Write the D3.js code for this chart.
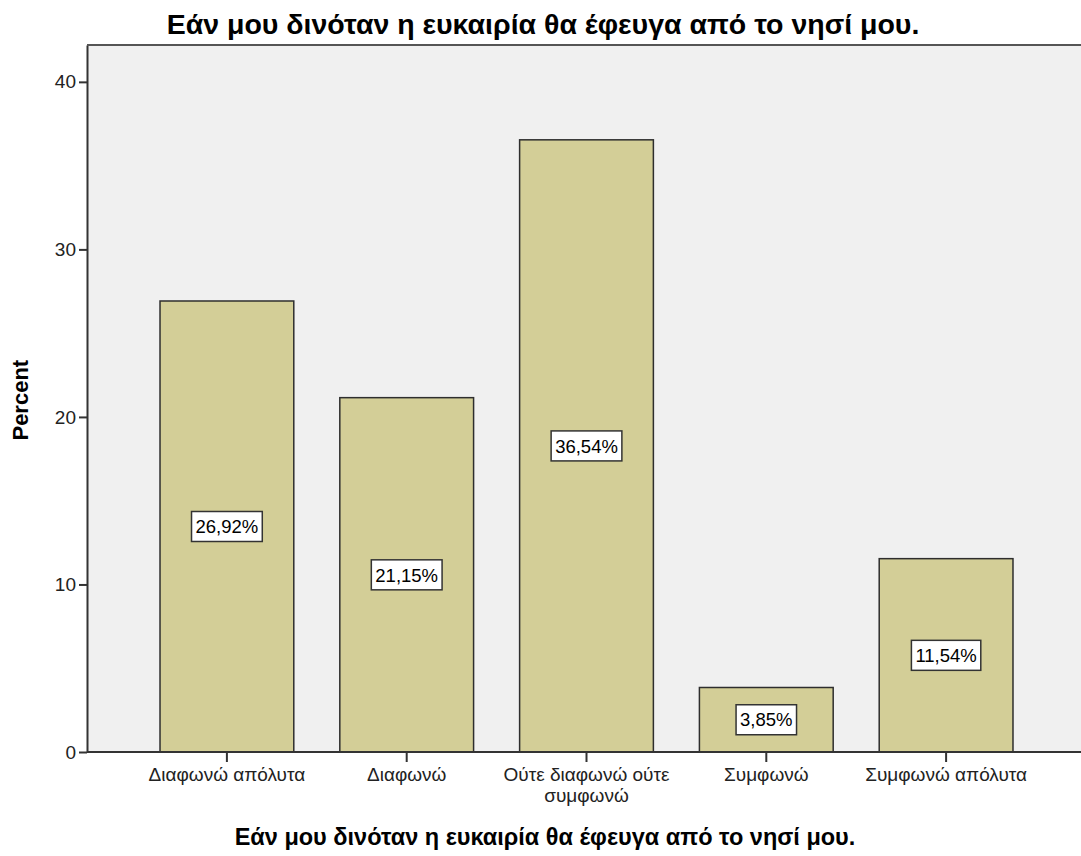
<!DOCTYPE html>
<html>
<head>
<meta charset="utf-8">
<script src="https://cdn.jsdelivr.net/npm/d3@7"></script>
<style>
  body { margin: 0; background: #fff; }
  text { font-family: "Liberation Sans", Arial, sans-serif; }
</style>
</head>
<body>
<div id="chart"></div>
<script>
// data
var categories = ["Διαφωνώ απόλυτα", "Διαφωνώ", "Ούτε διαφωνώ ούτε συμφωνώ", "Συμφωνώ", "Συμφωνώ απόλυτα"];
var catLines = [["Διαφωνώ απόλυτα"], ["Διαφωνώ"], ["Ούτε διαφωνώ ούτε", "συμφωνώ"], ["Συμφωνώ"], ["Συμφωνώ απόλυτα"]];
var percents = [26.92, 21.15, 36.54, 3.85, 11.54];
var labels = ["26,92%", "21,15%", "36,54%", "3,85%", "11,54%"];
var yTicks = [0, 10, 20, 30, 40];

var titleText = "Εάν μου δινόταν η ευκαιρία θα έφευγα από το νησί μου.";

var W = 1081, H = 856;
var margin = {top: 45, right: 0, bottom: 104, left: 87},
    width = W - margin.left - margin.right,
    height = H - margin.top - margin.bottom;

var svg = d3.select("#chart").append("svg")
    .attr("width", W)
    .attr("height", H);

var g = svg.append("g")
    .attr("transform", "translate(" + margin.left + "," + margin.top + ")");

// scales
var x = d3.scaleBand()
    .domain(categories)
    .range([50, 949])
    .paddingInner(0.256)
    .paddingOuter(0.128);

var y = d3.scaleLinear()
    .domain([0, 42.2])
    .range([height, 0]);

// plot background
g.append("rect")
    .attr("width", width)
    .attr("height", height)
    .attr("fill", "#f0f0f0");

// bars
g.selectAll(".bar")
    .data(percents)
  .enter().append("rect")
    .attr("class", "bar")
    .attr("x", function(d, i) { return x(categories[i]); })
    .attr("y", function(d) { return y(d); })
    .attr("width", x.bandwidth())
    .attr("height", function(d) { return height - y(d); })
    .attr("fill", "#d3ce97")
    .attr("stroke", "#2e2e2e")
    .attr("stroke-width", 1.5);

// value labels
var lab = g.selectAll(".vlab")
    .data(percents)
  .enter().append("g")
    .attr("class", "vlab")
    .attr("transform", function(d, i) {
      return "translate(" + (x(categories[i]) + x.bandwidth() / 2) + "," + y(d / 2) + ")";
    });

lab.append("text")
    .attr("text-anchor", "middle")
    .attr("dy", "0.36em")
    .style("font-size", "18.5px")
    .style("fill", "#000")
    .text(function(d, i) { return labels[i]; });

lab.each(function() {
  var t = d3.select(this).select("text");
  var w = t.node().getComputedTextLength();
  d3.select(this).insert("rect", "text")
      .attr("x", -w / 2 - 4)
      .attr("y", -15)
      .attr("width", w + 8)
      .attr("height", 30)
      .attr("fill", "#fff")
      .attr("stroke", "#333")
      .attr("stroke-width", 1.5);
});

// x baseline across the whole plot
g.append("line")
    .attr("x1", 0).attr("x2", width)
    .attr("y1", height).attr("y2", height)
    .attr("stroke", "#333")
    .attr("stroke-width", 2);

// y axis
var yAxis = g.append("g")
    .call(d3.axisLeft(y).tickValues(yTicks).tickSize(8).tickSizeOuter(0).tickPadding(3));
yAxis.select(".domain").attr("stroke", "#333").attr("stroke-width", 2);
yAxis.selectAll(".tick line").attr("stroke", "#333").attr("stroke-width", 2);
yAxis.selectAll(".tick text")
    .style("font-size", "19px")
    .style("font-family", "Liberation Sans, Arial, sans-serif")
    .attr("fill", "#222");

// x axis
var xAxis = g.append("g")
    .attr("transform", "translate(0," + height + ")")
    .call(d3.axisBottom(x).tickSize(10).tickSizeOuter(0).tickFormat(""));
xAxis.select(".domain").remove();
xAxis.selectAll(".tick line").attr("stroke", "#333").attr("stroke-width", 2);

xAxis.selectAll(".tick").each(function(d, i) {
  var t = d3.select(this).append("text")
      .attr("text-anchor", "middle")
      .attr("fill", "#222")
      .style("font-size", "19px")
      .style("font-family", "Liberation Sans, Arial, sans-serif");
  catLines[i].forEach(function(line, k) {
    t.append("tspan").attr("x", 0).attr("y", 29 + k * 21).text(line);
  });
});

// top border of plot
g.append("line")
    .attr("x1", 0).attr("x2", width)
    .attr("y1", 0).attr("y2", 0)
    .attr("stroke", "#555")
    .attr("stroke-width", 2);

// title
svg.append("text")
    .attr("x", 543)
    .attr("y", 34)
    .attr("text-anchor", "middle")
    .style("font-size", "28.5px")
    .style("font-weight", "bold")
    .text(titleText);

// x axis title
svg.append("text")
    .attr("x", 545)
    .attr("y", 845)
    .attr("text-anchor", "middle")
    .style("font-size", "23.5px")
    .style("font-weight", "bold")
    .text(titleText);

// y axis title
svg.append("text")
    .attr("transform", "translate(28," + (margin.top + y(21)) + ") rotate(-90)")
    .attr("text-anchor", "middle")
    .style("font-size", "22px")
    .style("font-weight", "bold")
    .text("Percent");
</script>
</body>
</html>
